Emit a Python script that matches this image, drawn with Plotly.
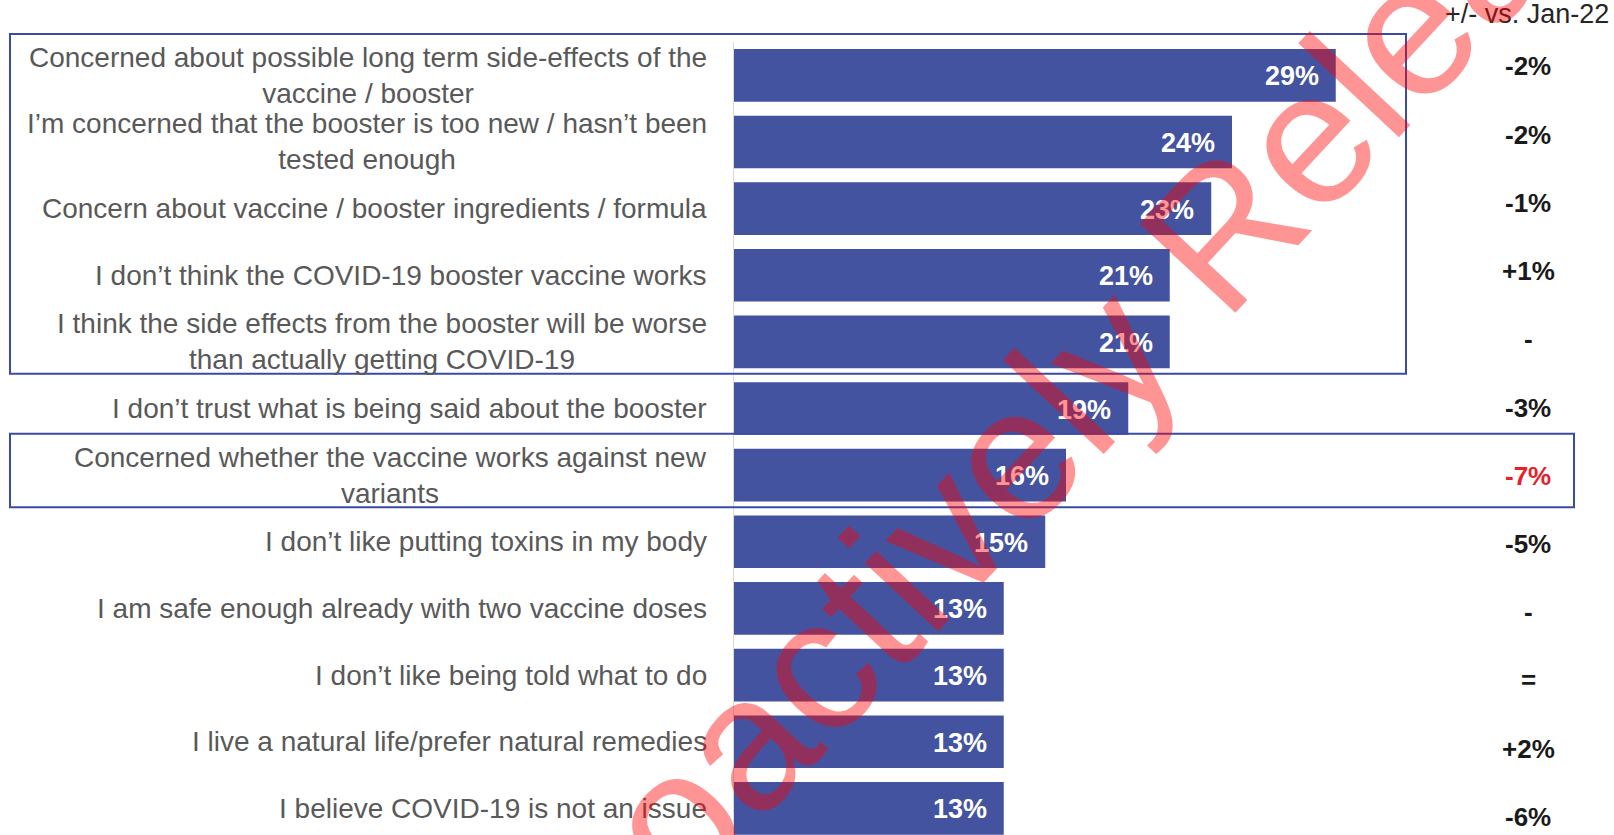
import plotly.graph_objects as go

# Reasons for not getting the booster, top to bottom
categories = [
    "Concerned about possible long term side-effects of the<br>vaccine / booster",
    "I’m concerned that the booster is too new / hasn’t been<br>tested enough",
    "Concern about vaccine / booster ingredients / formula",
    "I don’t think the COVID-19 booster vaccine works",
    "I think the side effects from the booster will be worse<br>than actually getting COVID-19",
    "I don’t trust what is being said about the booster",
    "Concerned whether the vaccine works against new<br>variants",
    "I don’t like putting toxins in my body",
    "I am safe enough already with two vaccine doses",
    "I don’t like being told what to do",
    "I live a natural life/prefer natural remedies",
    "I believe COVID-19 is not an issue",
]
shares = [29, 24, 23, 21, 21, 19, 16, 15, 13, 13, 13, 13]
change_vs_jan22 = ["-2%", "-2%", "-1%", "+1%", "-", "-3%", "-7%", "-5%", "-", "=", "+2%", "-6%"]
change_header = "+/- vs. Jan-22"
flagged_changes = ["-7%"]
boxed_rows = [(0, 4), (6, 6)]
watermark = "Proactively Released"

# Page geometry
W, H = 1614, 835
L, T = 734, 42
PX_PER_PCT = 20.75
Y_RANGE = (-0.5, 11.4)
plot_w = W - L
plot_h = H - T
x_max = plot_w / PX_PER_PCT
row_px = plot_h / (Y_RANGE[1] - Y_RANGE[0])


def paper_x(px):
    return (px - L) / plot_w


def paper_y(py):
    return (H - py) / plot_h


def row_center_px(i):
    return T + (i - Y_RANGE[0]) * row_px


BLUE = "#4453A0"
BOX = "#3B4BA5"
FONT = "Liberation Sans, Arial, sans-serif"

fig = go.Figure(
    go.Bar(
        x=shares,
        y=categories,
        orientation="h",
        width=0.79,
        marker=dict(color=BLUE, line=dict(width=0)),
        hoverinfo="skip",
    )
)

# value labels inside the bar ends
for cat, v in zip(categories, shares):
    fig.add_annotation(
        x=v, y=cat, xref="x", yref="y",
        text=f"{v}%", showarrow=False,
        xanchor="right", xshift=-15, yshift=-1,
        font=dict(family=FONT, size=27, color="white", weight="bold"),
    )

# category labels, right-aligned block with centred lines
for cat in categories:
    fig.add_annotation(
        x=0, y=cat, xref="paper", yref="y",
        text=cat, showarrow=False, align="center",
        xanchor="right", xshift=-25,
        font=dict(family=FONT, size=28, color="#595959"),
    )

# change column
fig.add_annotation(
    x=paper_x(1611), y=paper_y(14), xref="paper", yref="paper",
    text=change_header, showarrow=False, xanchor="right", yanchor="middle",
    font=dict(family=FONT, size=27, color="#262626"),
)
for i, (cat, ch) in enumerate(zip(categories, change_vs_jan22)):
    fig.add_annotation(
        x=paper_x(1528), y=cat, xref="paper", yref="y",
        text=ch, showarrow=False, xanchor="center",
        yshift=9 - 1.6 * i,
        font=dict(family=FONT, size=26, weight="bold",
                  color="#E8202A" if ch in flagged_changes else "#1A1A1A"),
    )

# outline boxes around highlighted rows
for (first, last), right_px in zip(boxed_rows, [1406, 1574]):
    top = row_center_px(first) - 0.62 * row_px
    bottom = row_center_px(last) + 0.48 * row_px
    fig.add_shape(
        type="rect", xref="paper", yref="paper",
        x0=paper_x(10), x1=paper_x(right_px),
        y0=paper_y(bottom), y1=paper_y(top),
        line=dict(color=BOX, width=2), fillcolor="rgba(0,0,0,0)",
        layer="above",
    )

# diagonal release stamp
fig.add_annotation(
    x=paper_x(1115), y=paper_y(345), xref="paper", yref="paper",
    text=watermark, showarrow=False, textangle=-47,
    xanchor="center", yanchor="middle",
    font=dict(family=FONT, size=190, color="rgba(255,0,0,0.42)"),
)

fig.update_layout(
    width=W, height=H,
    margin=dict(l=L, r=0, t=T, b=0, pad=0),
    plot_bgcolor="white", paper_bgcolor="white",
    showlegend=False,
    bargap=0.21,
    xaxis=dict(range=[0, x_max], visible=False, fixedrange=True),
    yaxis=dict(
        categoryorder="array", categoryarray=categories,
        range=[Y_RANGE[1], Y_RANGE[0]],
        showticklabels=False, ticks="",
        showgrid=False, zeroline=False,
        showline=True, linecolor="#D9D9D9", linewidth=1,
        fixedrange=True,
    ),
)

fig.write_html("out.html", config={"displayModeBar": False})
